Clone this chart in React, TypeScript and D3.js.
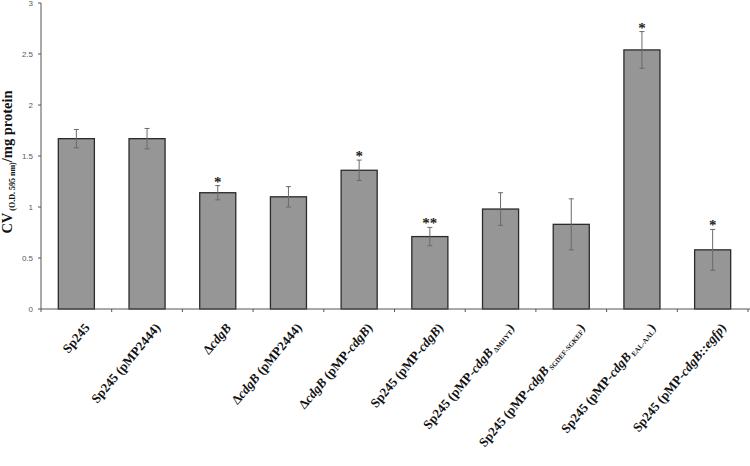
import React from "react";
import * as d3 from "d3";

type Seg = { t: string; i?: boolean; sub?: boolean };

const categories: Seg[][] = [
  [{ t: "Sp245" }],
  [{ t: "Sp245 (pMP2444)" }],
  [{ t: "Δ" }, { t: "cdgB", i: true }],
  [{ t: "Δ" }, { t: "cdgB", i: true }, { t: " (pMP2444)" }],
  [{ t: "Δ" }, { t: "cdgB", i: true }, { t: " (pMP-" }, { t: "cdgB", i: true }, { t: ")" }],
  [{ t: "Sp245 (pMP-" }, { t: "cdgB", i: true }, { t: ")" }],
  [{ t: "Sp245 (pMP-" }, { t: "cdgB", i: true }, { t: " ΔMHYT", sub: true }, { t: ")" }],
  [{ t: "Sp245 (pMP-" }, { t: "cdgB", i: true }, { t: " SGDEF-SGKEF", sub: true }, { t: ")" }],
  [{ t: "Sp245 (pMP-" }, { t: "cdgB", i: true }, { t: " EAL-AAL", sub: true }, { t: ")" }],
  [{ t: "Sp245 (pMP-" }, { t: "cdgB::egfp", i: true }, { t: ")" }],
];
const values = [1.67, 1.67, 1.14, 1.1, 1.36, 0.71, 0.98, 0.83, 2.54, 0.58];
const errors = [0.09, 0.1, 0.07, 0.1, 0.1, 0.09, 0.16, 0.25, 0.18, 0.2];
const significance = ["", "", "*", "", "*", "**", "", "", "*", "*"];
const yTicks = [0, 0.5, 1, 1.5, 2, 2.5, 3];

export default function App() {
  const W = 750, H = 466;
  const left = 41, right = 748, top = 3, bottom = 309;
  const idx = categories.map((_, i) => i);
  const x = d3.scaleBand<number>().domain(idx).range([left, right]).paddingInner(0.49).paddingOuter(0.245);
  const y = d3.scaleLinear().domain([0, 3]).range([bottom, top]);
  const step = x.step();
  const serif = "'Liberation Serif', 'DejaVu Serif', serif";
  const sans = "'Liberation Sans', Arial, sans-serif";

  return (
    <svg width={W} height={H} style={{ position: "absolute", left: 0, top: 0, background: "#fff" }}>
      {values.map((v, i) => (
        <rect key={"b" + i} x={x(i)!} y={y(v)} width={x.bandwidth()} height={y(0) - y(v)}
          fill="#969696" stroke="#2b2b2b" strokeWidth={1.3} />
      ))}
      {values.map((v, i) => {
        const cx = x(i)! + x.bandwidth() / 2;
        const y1 = y(v + errors[i]), y2 = y(v - errors[i]);
        return (
          <g key={"e" + i} stroke="#6a6a6a" strokeWidth={1}>
            <line x1={cx} x2={cx} y1={y1} y2={y2} />
            <line x1={cx - 2.5} x2={cx + 2.5} y1={y1} y2={y1} />
            <line x1={cx - 2.5} x2={cx + 2.5} y1={y2} y2={y2} />
          </g>
        );
      })}
      {values.map((v, i) => significance[i] ? (
        <text key={"s" + i} x={x(i)! + x.bandwidth() / 2} y={y(v + errors[i]) + 1}
          textAnchor="middle" fontFamily={serif} fontWeight="bold" fontSize={15} fill="#222">
          {significance[i]}
        </text>
      ) : null)}
      <line x1={left} x2={left} y1={top} y2={bottom} stroke="#555" strokeWidth={1} />
      <line x1={left} x2={W} y1={bottom} y2={bottom} stroke="#555" strokeWidth={1} />
      {yTicks.map((t) => (
        <g key={"yt" + t}>
          <line x1={left - 3} x2={left} y1={y(t)} y2={y(t)} stroke="#555" />
          <text x={left - 8} y={y(t)} dy="0.35em" textAnchor="end" fontFamily={sans} fontSize={8} fill="#595959">
            {String(t)}
          </text>
        </g>
      ))}
      {idx.map((i) => (
        <line key={"xt" + i} x1={x(i)! - (step - x.bandwidth()) / 2} x2={x(i)! - (step - x.bandwidth()) / 2}
          y1={bottom} y2={bottom + 3} stroke="#555" />
      ))}
      <line x1={right} x2={right} y1={bottom} y2={bottom + 3} stroke="#555" />
      {categories.map((segs, i) => {
        const cx = x(i)! + x.bandwidth() / 2;
        return (
          <g key={"xl" + i} transform={`translate(${cx + 14},${bottom + 19}) rotate(-50)`}>
            <text x={0} y={0} textAnchor="end" fontFamily={serif} fontWeight="bold" fontSize={13} fill="#111">
              {segs.map((s, j) => (
                <tspan key={j} fontStyle={s.i ? "italic" : "normal"}
                  fontSize={s.sub ? 7 : 13} dy={s.sub ? 2 : (j > 0 && segs[j - 1].sub ? -2 : 0)}>
                  {s.t}
                </tspan>
              ))}
            </text>
          </g>
        );
      })}
      <g transform="translate(12,162) rotate(-90)">
        <text x={0} y={0} textAnchor="middle" fontFamily={serif} fontWeight="bold" fontSize={14.5} fill="#111">
          <tspan>CV</tspan>
          <tspan fontSize={8} dy={3}> (O.D. 595 nm)</tspan>
          <tspan dy={-3}>/mg protein</tspan>
        </text>
      </g>
    </svg>
  );
}
